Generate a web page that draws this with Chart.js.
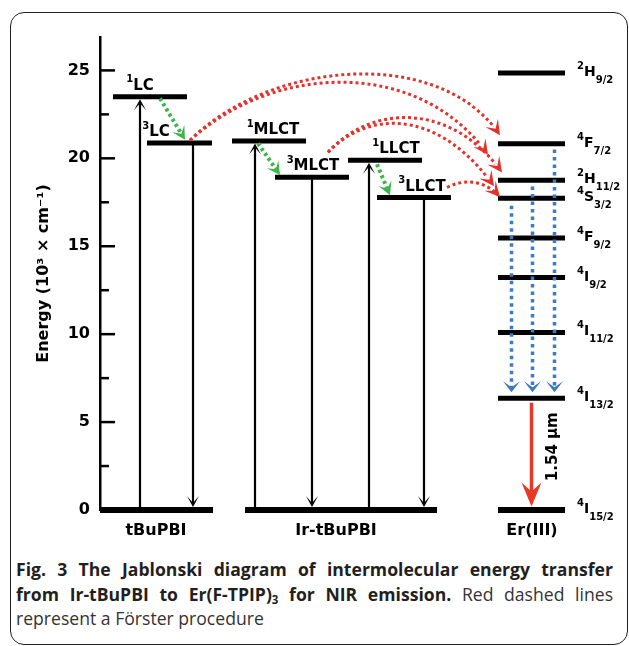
<!DOCTYPE html>
<html>
<head>
<meta charset="utf-8">
<script src="https://cdn.jsdelivr.net/npm/chart.js@4.4.1/dist/chart.umd.min.js"></script>
<style>
  html, body { margin: 0; padding: 0; background: #fff; }
  body { width: 629px; height: 646px; position: relative; overflow: hidden; }
  #frame {
    position: absolute; left: 10px; top: 12px; width: 616px; height: 631px;
    border: 1.5px solid #231f20; border-radius: 14px;
  }
  #wrap { position: absolute; left: 0; top: 0; width: 629px; height: 545px; }
  #cap {
    position: absolute; left: 16px; top: 557px; width: 597px;
    font-family: "Open Sans", sans-serif; font-size: 17.6px; line-height: 24.5px; color: #231f20;
  }
  #cap .j { text-align: justify; text-align-last: justify; white-space: nowrap; }
  #cap .n { font-weight: 400; color: #333; }
  #cap sub { font-size: 11.5px; line-height: 0; vertical-align: -3px; }
</style>
</head>
<body>
<div id="frame"></div>
<div id="wrap"><canvas id="chart" width="629" height="545"></canvas></div>
<div id="cap">
  <div class="j"><b>Fig. 3 The Jablonski diagram of intermolecular energy transfer</b></div>
  <div class="j"><b>from Ir-tBuPBI to Er(F-TPIP)<sub>3</sub> for NIR emission.</b> <span class="n">Red dashed lines</span></div>
  <div class="n">represent a Förster procedure</div>
</div>
<script>
// energy axis, 10^3 cm^-1
const yMax = 26.9;
const minorTicks = [2.5, 7.5, 12.5, 17.5, 22.5];
const majorTicks = [0, 5, 10, 15, 20, 25];

// x is an arbitrary 0..100 column scale
const groups = ['tBuPBI', 'Ir-tBuPBI', 'Er(III)'];
const groupLabelX = [11.2, 47.2, 86.4];
const groundX0 = [0, 29, 79.6];
const groundX1 = [22.6, 67.4, 93];

// donor states
const donorSpin = ['1', '3', '1', '3', '1', '3'];
const donorName = ['LC', 'LC', 'MLCT', 'MLCT', 'LLCT', 'LLCT'];
const donorEnergy = [23.5, 20.87, 20.98, 18.92, 19.89, 17.77];
const donorX0 = [2.6, 9.4, 26.4, 35, 49.6, 55.4];
const donorX1 = [17.4, 22.4, 41.2, 49.8, 64.4, 70.2];
const donorLabelX = [8, 11.2, 34.6, 42.6, 59.2, 64.4];

// Er(III) states
const erSup = ['2', '4', '2', '4', '4', '4', '4', '4', '4'];
const erTerm = ['H', 'F', 'H', 'S', 'F', 'I', 'I', 'I', 'I'];
const erSub = ['9/2', '7/2', '11/2', '3/2', '9/2', '9/2', '11/2', '13/2', '15/2'];
const erEnergy = [24.85, 20.83, 18.75, 17.73, 15.47, 13.22, 10.1, 6.35, 0];
const erX0 = 79.6, erX1 = 93, erLabelX = 95.4;

// black absorption (up) and emission (down) arrows
const absorbX = [8, 31, 53.8];
const absorbTo = [23.5, 20.98, 19.89];
const emitX = [18.6, 42.4, 64.8];
const emitFrom = [20.87, 18.92, 17.77];

// green intersystem crossing arrows: [x0, E0, x1, E1]
const iscArrows = [
  [12, 23.41, 17, 21.05],
  [31.6, 20.85, 36, 19.05],
  [55.4, 19.66, 58, 17.9]
];

// red Förster transfer curves: [x0, E0, c1x, c1E, c2x, c2E, x1, E1]
const forster = [
  [18, 21.02, 34, 25.57, 68, 26.42, 80, 21.31],
  [18, 21.02, 35, 25.45, 64, 25.68, 77.6, 20.2],
  [45.6, 20.34, 54, 23.01, 70, 23.3, 80.4, 19.2],
  [45.6, 20.34, 54, 22.84, 68, 22.73, 78.8, 18.41],
  [69.4, 18.35, 73, 18.86, 77, 18.75, 80, 17.8]
];

// blue non-radiative relaxation
const relaxX = [82.3, 86.5, 90.9];
const relaxFrom = [17.3, 18.4, 20.5];
const relaxTo = 6.7;

// red 1.54 um emission
const emissionX = 86.3, emissionFrom = 6.1, emissionTo = 0.2;
const emissionLabel = '1.54 µm';
const emissionLabelX = 90.6, emissionLabelE = 3.6;

const FONT = '"DejaVu Sans", sans-serif';

function seg(x0, y0, x1, y1, width) {
  return {
    data: [{ x: x0, y: y0 }, { x: x1, y: y1 }],
    borderColor: '#000', borderWidth: width, borderCapStyle: 'butt',
    pointRadius: 0, fill: false, tension: 0, clip: false
  };
}

const datasets = [];
groundX0.forEach((x0, i) => datasets.push(seg(x0, 0, groundX1[i], 0, 6)));
donorEnergy.forEach((e, i) => datasets.push(seg(donorX0[i], e, donorX1[i], e, 5)));
erEnergy.forEach(e => datasets.push(seg(erX0, e, erX1, e, 5)));

function head(ctx, tx, ty, ang, len, hw, notch, color) {
  const dx = Math.cos(ang), dy = Math.sin(ang);
  const bx = tx - len * dx, by = ty - len * dy;
  ctx.save();
  ctx.setLineDash([]);
  ctx.fillStyle = color;
  ctx.beginPath();
  ctx.moveTo(tx, ty);
  ctx.lineTo(bx - hw * dy, by + hw * dx);
  ctx.lineTo(tx - notch * dx, ty - notch * dy);
  ctx.lineTo(bx + hw * dy, by - hw * dx);
  ctx.closePath();
  ctx.fill();
  ctx.restore();
}

function arrow(ctx, x0, y0, x1, y1, o) {
  const ang = Math.atan2(y1 - y0, x1 - x0);
  const sx = x1 - o.notch * Math.cos(ang), sy = y1 - o.notch * Math.sin(ang);
  ctx.save();
  ctx.strokeStyle = o.color;
  ctx.lineWidth = o.width;
  ctx.setLineDash(o.dash || []);
  ctx.beginPath();
  ctx.moveTo(x0, y0);
  ctx.lineTo(sx, sy);
  ctx.stroke();
  ctx.restore();
  head(ctx, x1, y1, ang, o.len, o.hw, o.notch, o.color);
}

function rich(ctx, x, y, sup, main, sub, size, small, center) {
  const fs = 'bold ' + small + 'px ' + FONT, fm = 'bold ' + size + 'px ' + FONT;
  ctx.font = fs; const ws = ctx.measureText(sup).width;
  ctx.font = fm; const wm = ctx.measureText(main).width;
  ctx.font = fs; const wb = sub ? ctx.measureText(sub).width : 0;
  const x0 = center ? x - (ws + wm + wb) / 2 : x;
  ctx.textAlign = 'left';
  ctx.textBaseline = 'alphabetic';
  ctx.fillStyle = '#000';
  ctx.font = fs; ctx.fillText(sup, x0, y - size * 0.5);
  ctx.font = fm; ctx.fillText(main, x0 + ws, y);
  if (sub) { ctx.font = fs; ctx.fillText(sub, x0 + ws + wm, y + size * 0.5); }
}

function split(p, t) {
  // de Casteljau: first part of cubic up to t
  const L = (a, b) => [a[0] + (b[0] - a[0]) * t, a[1] + (b[1] - a[1]) * t];
  const a = L(p[0], p[1]), b = L(p[1], p[2]), c = L(p[2], p[3]);
  const d = L(a, b), e = L(b, c), f = L(d, e);
  return [p[0], a, d, f];
}

const diagram = {
  id: 'diagram',
  afterDatasetsDraw(chart) {
    const { ctx, scales: { x, y }, chartArea } = chart;
    const px = v => x.getPixelForValue(v), py = v => y.getPixelForValue(v);

    // inward axis ticks
    ctx.save();
    ctx.strokeStyle = '#000';
    ctx.lineWidth = 2.5;
    majorTicks.forEach(v => {
      ctx.beginPath(); ctx.moveTo(chartArea.left, py(v)); ctx.lineTo(chartArea.left + 15, py(v)); ctx.stroke();
    });
    minorTicks.forEach(v => {
      ctx.beginPath(); ctx.moveTo(chartArea.left, py(v)); ctx.lineTo(chartArea.left + 9, py(v)); ctx.stroke();
    });
    ctx.restore();

    const black = { color: '#000', width: 2.2, len: 11, hw: 6, notch: 4 };
    absorbX.forEach((xv, i) => arrow(ctx, px(xv), py(0) - 3, px(xv), py(absorbTo[i]) + 2.5, black));
    emitX.forEach((xv, i) => arrow(ctx, px(xv), py(emitFrom[i]) + 2, px(xv), py(0) - 3, black));

    const green = { color: '#3cb54a', width: 4, dash: [3, 3], len: 13, hw: 7, notch: 7 };
    iscArrows.forEach(a => arrow(ctx, px(a[0]), py(a[1]), px(a[2]), py(a[3]), green));

    // Förster curves
    forster.forEach(c => {
      const pts = [[px(c[0]), py(c[1])], [px(c[2]), py(c[3])], [px(c[4]), py(c[5])], [px(c[6]), py(c[7])]];
      const part = split(pts, 0.96);
      ctx.save();
      ctx.strokeStyle = '#e5312b';
      ctx.lineWidth = 3;
      ctx.setLineDash([3, 3]);
      ctx.beginPath();
      ctx.moveTo(part[0][0], part[0][1]);
      ctx.bezierCurveTo(part[1][0], part[1][1], part[2][0], part[2][1], part[3][0], part[3][1]);
      ctx.stroke();
      ctx.restore();
      const ang = Math.atan2(pts[3][1] - pts[2][1], pts[3][0] - pts[2][0]);
      head(ctx, pts[3][0], pts[3][1], ang, 15, 7.5, 8, '#e5312b');
    });

    const blue = { color: '#3b7bc2', width: 3.5, dash: [3.5, 4], len: 11, hw: 8.5, notch: 5 };
    relaxX.forEach((xv, i) => arrow(ctx, px(xv), py(relaxFrom[i]), px(xv), py(relaxTo), blue));

    arrow(ctx, px(emissionX), py(emissionFrom), px(emissionX), py(emissionTo),
      { color: '#e43a26', width: 3.5, len: 24, hw: 10, notch: 15 });

    // labels
    donorEnergy.forEach((e, i) =>
      rich(ctx, px(donorLabelX[i]), py(e) - 7, donorSpin[i], donorName[i], '', 15, 10, true));
    erEnergy.forEach((e, i) =>
      rich(ctx, px(erLabelX), py(e) + 3, erSup[i], erTerm[i], erSub[i], 14, 10, false));

    ctx.save();
    ctx.fillStyle = '#000';
    ctx.font = 'bold 16px ' + FONT;
    ctx.textAlign = 'center';
    ctx.textBaseline = 'alphabetic';
    groups.forEach((g, i) => ctx.fillText(g, px(groupLabelX[i]), chartArea.bottom + 25));
    ctx.translate(px(emissionLabelX), py(emissionLabelE));
    ctx.rotate(-Math.PI / 2);
    ctx.font = 'bold 15px ' + FONT;
    ctx.textBaseline = 'middle';
    ctx.fillText(emissionLabel, 0, 0);
    ctx.restore();
  }
};

new Chart(document.getElementById('chart'), {
  type: 'line',
  data: { datasets },
  options: {
    responsive: false,
    animation: false,
    events: [],
    layout: { padding: { top: 37, bottom: 35, left: 0, right: 29 } },
    plugins: { legend: { display: false }, tooltip: { enabled: false } },
    scales: {
      x: { type: 'linear', min: 0, max: 100, display: false },
      y: {
        type: 'linear', min: 0, max: yMax,
        afterFit: s => { s.width = 100; },
        border: { display: true, color: '#000', width: 2.5 },
        grid: { display: false, drawTicks: false },
        ticks: {
          stepSize: 5, includeBounds: false, padding: 10, color: '#000',
          font: { family: FONT, size: 16, weight: 'bold' }
        },
        title: {
          display: true, text: 'Energy (10³ × cm⁻¹)', color: '#000',
          font: { family: FONT, size: 16, weight: 'bold' },
          padding: { top: 34, bottom: 0 }
        }
      }
    }
  },
  plugins: [diagram]
});
</script>
</body>
</html>
